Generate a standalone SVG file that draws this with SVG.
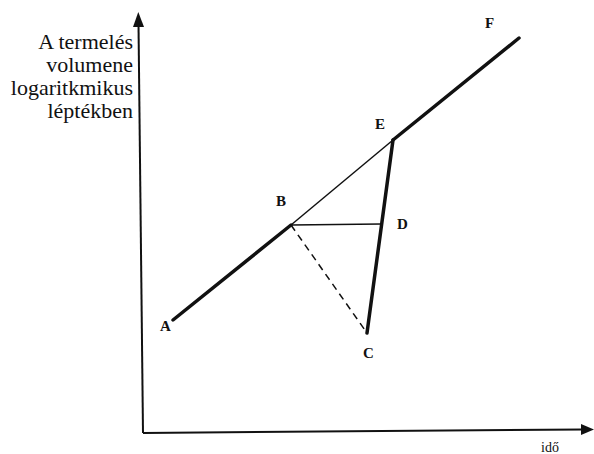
<svg xmlns="http://www.w3.org/2000/svg" width="594" height="454" viewBox="0 0 594 454">
<style>
.ax{stroke:#111;stroke-width:2;fill:none}
.thick{stroke:#111;stroke-width:3.5;fill:none;stroke-linecap:round}
.thin{stroke:#111;stroke-width:1.5;fill:none}
.dash{stroke:#111;stroke-width:1.5;fill:none;stroke-dasharray:7,5}
.head{fill:#111}
.pt{font-family:"Liberation Serif","DejaVu Serif","Times New Roman",serif;font-weight:bold;font-size:15px;fill:#111}
.lab{font-family:"Liberation Serif","DejaVu Serif","Times New Roman",serif;font-size:22px;fill:#111;text-anchor:end}
.t{font-family:"Liberation Serif","DejaVu Serif","Times New Roman",serif;font-size:14px;fill:#111}
</style>
<rect width="594" height="454" fill="#fff"/>
<g id="axes">
<line class="ax" x1="143" y1="433" x2="138.5" y2="24"/>
<polygon class="head" points="138.3,12 144,27 133,27"/>
<line class="ax" x1="143" y1="433" x2="583" y2="429.5"/>
<polygon class="head" points="594,429.5 581,424 581,435"/>
</g>
<g id="ylabel">
<text class="lab" x="133" y="49">A termelés</text>
<text class="lab" x="133" y="72">volumene</text>
<text class="lab" x="133" y="95">logaritkmikus</text>
<text class="lab" x="133" y="118">léptékben</text>
</g>
<g id="connectors">
<line class="thick" x1="173" y1="320" x2="291" y2="225"/>
<line class="thin" x1="291" y1="225" x2="393" y2="140"/>
<line class="thick" x1="393" y1="140" x2="519" y2="38"/>
<line class="thick" x1="393" y1="140" x2="367" y2="333"/>
<line class="thin" x1="291" y1="225" x2="381" y2="224"/>
<line class="dash" x1="291" y1="225" x2="367" y2="333"/>
</g>
<g id="A"><text class="pt" x="160" y="331">A</text></g>
<g id="B"><text class="pt" x="276" y="206">B</text></g>
<g id="C"><text class="pt" x="363" y="358">C</text></g>
<g id="D"><text class="pt" x="397" y="229">D</text></g>
<g id="E"><text class="pt" x="375" y="129">E</text></g>
<g id="F"><text class="pt" x="485" y="28">F</text></g>
<g id="xlabel"><text class="t" x="541" y="452">idő</text></g>
</svg>
